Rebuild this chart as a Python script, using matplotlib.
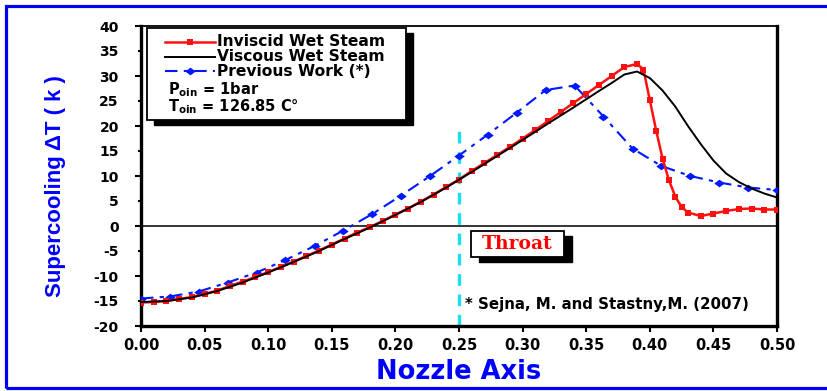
import matplotlib
matplotlib.use("Agg")
import matplotlib.pyplot as plt
from matplotlib.patches import Rectangle
from matplotlib.lines import Line2D
from matplotlib.ticker import MultipleLocator, FuncFormatter

plt.rcParams["axes.unicode_minus"] = False
plt.rcParams["mathtext.fontset"] = "dejavusans"

# Inviscid wet steam (red squares)
x_inviscid = [0.00, 0.01, 0.02, 0.03, 0.04, 0.05, 0.06, 0.07, 0.08, 0.09,
              0.10, 0.11, 0.12, 0.13, 0.14, 0.15, 0.16, 0.17, 0.18, 0.19,
              0.20, 0.21, 0.22, 0.23, 0.24, 0.25, 0.26, 0.27, 0.28, 0.29,
              0.30, 0.31, 0.32, 0.33, 0.34, 0.35, 0.36, 0.37, 0.38, 0.39,
              0.395, 0.40, 0.405, 0.41, 0.415, 0.42, 0.425, 0.43, 0.44, 0.45,
              0.46, 0.47, 0.48, 0.49, 0.50]
dT_inviscid = [-15.3, -15.2, -15.0, -14.6, -14.2, -13.6, -12.9, -12.0, -11.1, -10.2,
               -9.2, -8.2, -7.1, -6.0, -4.9, -3.7, -2.5, -1.3, -0.2, 1.0,
               2.3, 3.5, 4.9, 6.3, 7.8, 9.3, 11.0, 12.6, 14.2, 15.8,
               17.5, 19.2, 21.0, 22.8, 24.6, 26.4, 28.2, 30.0, 31.8, 32.4,
               31.3, 25.2, 19.1, 13.5, 9.2, 5.9, 3.8, 2.7, 2.0, 2.5,
               3.0, 3.4, 3.5, 3.3, 3.3]

# Viscous wet steam (solid black)
x_viscous = [0.00, 0.02, 0.04, 0.06, 0.08, 0.10, 0.12, 0.14, 0.16, 0.18,
             0.20, 0.22, 0.24, 0.26, 0.28, 0.30, 0.32, 0.34, 0.36, 0.37,
             0.38, 0.39, 0.40, 0.41, 0.42, 0.43, 0.44, 0.45, 0.46, 0.47,
             0.48, 0.49, 0.50]
dT_viscous = [-15.2, -15.0, -14.3, -13.0, -11.3, -9.3, -7.2, -5.0, -2.6, -0.3,
              2.2, 4.8, 7.7, 10.8, 14.0, 17.2, 20.5, 23.7, 27.0, 28.6,
              30.3, 30.9, 29.6, 27.1, 23.9, 20.0, 16.4, 13.1, 10.5, 8.8,
              7.5, 6.5, 5.7]

# Previous work, Sejna & Stastny (2007) (blue diamonds)
x_previous = [0.0000, 0.0227, 0.0455, 0.0682, 0.0909, 0.1136, 0.1364, 0.1591,
              0.1818, 0.2045, 0.2273, 0.2500, 0.2727, 0.2955, 0.3182, 0.3409,
              0.3636, 0.3864, 0.4091, 0.4318, 0.4545, 0.4773, 0.5000]
dT_previous = [-14.5, -14.1, -13.1, -11.3, -9.3, -6.8, -4.0, -0.9,
               2.4, 6.1, 10.0, 14.1, 18.3, 22.7, 27.2, 28.1,
               21.9, 15.5, 12.0, 10.0, 8.7, 7.7, 7.2]

series_labels = ["Inviscid Wet Steam", "Viscous Wet Steam", "Previous Work (*)"]
throat_x = 0.25
throat_top = 20

W, H = 827, 391
fig = plt.figure(figsize=(W / 100, H / 100), dpi=100)
fig.patch.set_facecolor("white")

# axes box in pixels: left 141, right 777, top 26, bottom 326
L, R, T, B = 141, 777, 26, 326
ax = fig.add_axes([L / W, 1 - B / H, (R - L) / W, (B - T) / H])

# blue frame round the figure
frame = Rectangle((6 / W, 3 / H), 1.2, (385 - 3) / H, transform=fig.transFigure,
                  fill=False, edgecolor="#0000ee", linewidth=2.3, clip_on=False)
fig.patches.append(frame)

diamond = [(-1.35, 0), (0, 1), (1.35, 0), (0, -1), (-1.35, 0)]

ax.axhline(0, color="black", lw=1.1, zorder=1)
ax.plot([throat_x, throat_x], [-20, throat_top], color="#19e0f0", lw=2.4,
        dashes=(3.5, 2.6), zorder=2)
ax.plot(x_previous, dT_previous, color="#0018ff", lw=1.5, dashes=(6, 3, 2, 3),
        marker=diamond, markersize=7.5, markeredgewidth=0, zorder=3)
ax.plot(x_inviscid, dT_inviscid, color="#ff1010", lw=1.8, marker="s",
        markersize=4.6, markeredgewidth=0, zorder=4)
ax.plot(x_viscous, dT_viscous, color="black", lw=1.4, zorder=5)

ax.set_xlim(0, 0.5)
ax.set_ylim(-20, 40)

for side in ("left", "bottom", "right"):
    ax.spines[side].set_linewidth(2.4)
ax.spines["top"].set_linewidth(1.3)

ax.xaxis.set_major_locator(MultipleLocator(0.05))
ax.xaxis.set_major_formatter(FuncFormatter(lambda v, p: f"{v:.2f}"))
ax.yaxis.set_major_locator(MultipleLocator(10))
ax.yaxis.set_minor_locator(MultipleLocator(5))
ax.yaxis.set_major_formatter(FuncFormatter(lambda v, p: f"{v:.0f}"))
ax.yaxis.set_minor_formatter(FuncFormatter(lambda v, p: f"{v:.0f}"))

ax.tick_params(axis="x", which="major", direction="out", length=4, width=1.5,
               pad=5, top=False)
ax.tick_params(axis="y", which="major", direction="out", length=4.5, width=1.5,
               pad=11.5, right=False)
ax.tick_params(axis="y", which="minor", direction="out", length=2.2, width=1.5,
               pad=13.8, right=False)
for lab in ax.get_xticklabels():
    lab.set_fontfamily("DejaVu Sans")
    lab.set_fontweight("bold")
    lab.set_fontsize(10.5)
for lab in ax.get_yticklabels() + ax.get_yticklabels(minor=True):
    lab.set_fontfamily("DejaVu Sans")
    lab.set_fontweight("bold")
    lab.set_fontsize(10)

ax.set_xlabel("Nozzle Axis", family="DejaVu Sans", weight="bold", size=18.5,
              color="#0000ff", labelpad=4)
ax.set_ylabel("Supercooling ΔT ( k )", family="Liberation Sans", weight="bold",
              size=16, color="#0000ff")
ax.yaxis.label.set_va("center")
ax.yaxis.set_label_coords((56 - L) / (R - L), (B - 186) / (B - T))


def px(xp, yp):
    return ((xp - L) / (R - L), (B - yp) / (B - T))


# white box with a solid black shadow
def shadow_box(x0, y0, x1, y1, off_x, off_y, z):
    ax0, ay0 = px(x0, y1)
    ax1, ay1 = px(x1, y0)
    sx, sy = px(x0 + off_x, y1 + off_y)
    ax.add_patch(Rectangle((sx, sy), ax1 - ax0, ay1 - ay0, transform=ax.transAxes,
                           facecolor="black", edgecolor="black", lw=1, zorder=z,
                           clip_on=False))
    ax.add_patch(Rectangle((ax0, ay0), ax1 - ax0, ay1 - ay0, transform=ax.transAxes,
                           facecolor="white", edgecolor="black", lw=1.3, zorder=z + 0.1,
                           clip_on=False))


shadow_box(147, 28, 406, 120, 7, 5, 10)

legend_rows = [41.5, 56.5, 71.5]
styles = [dict(color="#ff1010", lw=1.8, marker="s", markersize=4.6, markeredgewidth=0),
          dict(color="black", lw=1.4),
          dict(color="#0018ff", lw=1.5, dashes=(6, 3, 2, 3), marker=diamond,
               markersize=7.5, markeredgewidth=0)]
for yrow, st, text in zip(legend_rows, styles, series_labels):
    (xa, ya), (xb, _) = px(165, yrow), px(215, yrow)
    xm = (xa + xb) / 2
    line = Line2D([xa, xm, xb], [ya, ya, ya], transform=ax.transAxes, zorder=11,
                  markevery=[1], **st)
    ax.add_line(line)
    tx, ty = px(217, yrow)
    ax.text(tx, ty, text, transform=ax.transAxes, family="DejaVu Sans",
            weight="bold", size=11.2, va="center", ha="left", zorder=12)

tx, ty = px(168, 90)
ax.text(tx, ty, r"P$_{\mathbf{oin}}$ = 1bar", transform=ax.transAxes,
        family="DejaVu Sans", weight="bold", size=10.5, va="center", ha="left", zorder=12)
tx, ty = px(168, 107)
ax.text(tx, ty, r"T$_{\mathbf{oin}}$ = 126.85 C°", transform=ax.transAxes,
        family="DejaVu Sans", weight="bold", size=10.5, va="center", ha="left", zorder=12)

# throat marker box
shadow_box(471, 231, 564, 257, 8, 5, 10)
tx, ty = px(517.5, 244)
ax.text(tx, ty, "Throat", transform=ax.transAxes, family="DejaVu Serif",
        weight="bold", size=13.5, color="#ff0000", va="center", ha="center", zorder=12)

tx, ty = px(465, 305)
ax.text(tx, ty, "* Sejna, M. and Stastny,M. (2007)", transform=ax.transAxes,
        family="DejaVu Sans", weight="bold", size=10.8, va="center", ha="left", zorder=12)

fig.savefig("out.png", dpi=100, facecolor="white")
